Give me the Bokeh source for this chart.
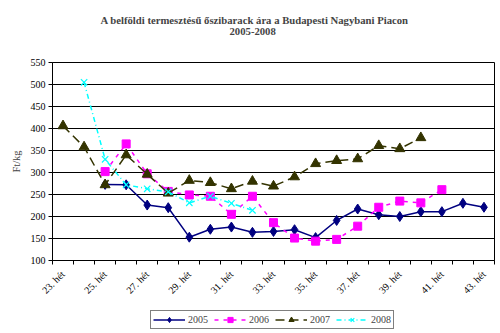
import numpy as np
from bokeh.plotting import figure
from bokeh.layouts import column
from bokeh.models import Legend, LegendItem, FixedTicker, Range1d, Title
from bokeh.embed import file_html
from bokeh.resources import INLINE

nan = np.nan
weeks = list(range(23, 44))
tick_weeks = list(range(23, 44, 2))
tick_labels = {w: f"{w}. hét" for w in tick_weeks}

y2005 = [nan, nan, 273, 272, 226, 220, 153, 171, 176, 164, 166, 170, 152, 191, 217, 204, 200, 211, 211, 230, 221]
y2006 = [nan, nan, 302, 365, 297, 257, 249, 246, 205, 246, 186, 151, 144, 148, 178, 221, 235, 231, 261, nan, nan]
y2007 = [406, 358, 272, 340, 296, 253, 282, 277, 263, 280, 269, 290, 320, 327, 331, 361, 354, 379, nan, nan, nan]
y2008 = [nan, 505, 330, 272, 263, 256, 231, 246, 230, 214, nan, nan, nan, nan, nan, nan, nan, nan, nan, nan, nan]
series_names = ["2005", "2006", "2007", "2008"]

title_line1 = "A belföldi termesztésű őszibarack ára a Budapesti Nagybani Piacon"
title_line2 = "2005-2008"

SERIF = "Liberation Serif"

STYLES = [
    dict(color="#000080", dash="solid", marker="diamond", size=10),
    dict(color="#FF00FF", dash="4 5", marker="square", size=8),
    dict(color="#333300", dash="9 5", marker="triangle", size=10),
    dict(color="#00FFFF", dash="5 3 1 3", marker="x", size=9),
]
SERIES = [y2005, y2006, y2007, y2008]


def draw(fig):
    items = []
    for name, ys, st in zip(series_names, SERIES, STYLES):
        ln = fig.line(weeks, ys, line_color=st["color"], line_width=1.5, line_dash=st["dash"])
        if st["marker"] == "x":
            mk = fig.scatter(weeks, ys, marker="x", size=st["size"], line_color=st["color"], line_width=1.2)
        else:
            mk = fig.scatter(weeks, ys, marker=st["marker"], size=st["size"],
                             fill_color=st["color"], line_color=st["color"])
        items.append(LegendItem(label=name, renderers=[ln, mk]))
    return items


p = figure(width=500, height=305, output_backend="svg", toolbar_location=None,
           x_range=Range1d(22.5, 43.5), y_range=Range1d(100, 550), title=None)
p.min_border_left = 52
p.min_border_right = 6
p.min_border_top = 62
p.min_border_bottom = 45
p.background_fill_color = "white"
p.border_fill_color = "white"
p.outline_line_color = "#000000"
p.outline_line_width = 1

spacer = Title(text=" ", text_font=SERIF, text_font_size="24px", standoff=0)
t2 = Title(text=title_line2, align="left", text_font=SERIF, text_font_size="10.7px",
           text_font_style="bold", offset=177, standoff=0)
t1 = Title(text=title_line1, align="left", text_font=SERIF, text_font_size="10.7px",
           text_font_style="bold", offset=48, standoff=0)
p.add_layout(spacer, "above")
p.add_layout(t2, "above")
p.add_layout(t1, "above")

p.xgrid.grid_line_color = None
p.ygrid.grid_line_color = "#000000"
p.ygrid.grid_line_width = 1
p.yaxis.ticker = FixedTicker(ticks=list(range(100, 551, 50)), minor_ticks=[])
p.xaxis.ticker = FixedTicker(ticks=tick_weeks, minor_ticks=[w + 0.5 for w in range(22, 44)])
p.xaxis.major_label_overrides = tick_labels
p.xaxis.major_label_orientation = np.pi / 4
p.xaxis.major_tick_line_color = None
p.xaxis.major_tick_out = 4
p.xaxis.major_tick_in = 0
p.xaxis.minor_tick_in = 0
p.xaxis.minor_tick_out = 4
p.xaxis.minor_tick_line_color = "black"
p.yaxis.minor_tick_line_color = None
p.yaxis.major_tick_in = 0
p.yaxis.major_tick_out = 4
for ax in (p.xaxis[0], p.yaxis[0]):
    ax.axis_line_color = "black"
    ax.major_label_text_font = SERIF
    ax.major_label_text_font_size = "10px"
    ax.major_label_text_color = "black"
p.xaxis.major_label_standoff = 8
p.yaxis.major_label_standoff = 3
p.yaxis.axis_label = "Ft/kg"
p.yaxis.axis_label_text_font = SERIF
p.yaxis.axis_label_text_font_size = "10.5px"
p.yaxis.axis_label_text_font_style = "normal"
p.yaxis.axis_label_standoff = 6

draw(p)

# legend strip below the chart
lp = figure(width=500, height=28, output_backend="svg", toolbar_location=None,
            x_range=Range1d(1000, 1001), y_range=Range1d(1000, 1001),
            x_axis_location=None, y_axis_location=None,
            min_border=0, outline_line_color=None)
lp.grid.visible = False
items = draw(lp)
legend = Legend(items=items, orientation="horizontal", location=(98, 4))
legend.label_text_font = SERIF
legend.label_text_font_size = "10px"
legend.label_height = 13
legend.glyph_width = 32
legend.glyph_height = 13
legend.spacing = 6
legend.padding = 2
legend.margin = 0
legend.label_standoff = 3
legend.border_line_color = "black"
legend.border_line_width = 1
legend.background_fill_alpha = 1
lp.add_layout(legend)

layout = column(p, lp, spacing=0)
open("out.html", "w").write(file_html(layout, INLINE))
